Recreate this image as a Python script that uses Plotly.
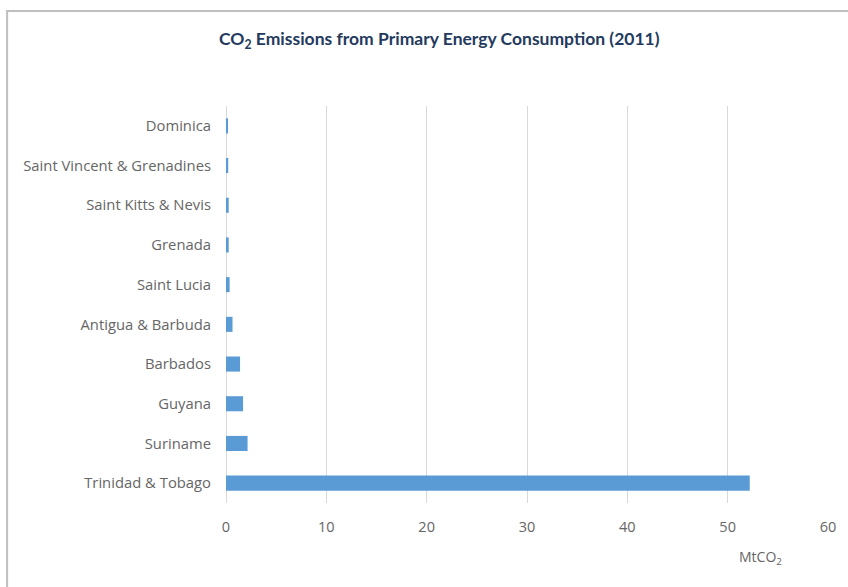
import plotly.graph_objects as go

countries = ["Dominica", "Saint Vincent & Grenadines", "Saint Kitts & Nevis", "Grenada",
             "Saint Lucia", "Antigua & Barbuda", "Barbados", "Guyana", "Suriname",
             "Trinidad & Tobago"]
emissions = [0.13, 0.22, 0.27, 0.27, 0.36, 0.65, 1.4, 1.7, 2.15, 52.2]
x_ticks = [0, 10, 20, 30, 40, 50, 60]

fig = go.Figure(go.Bar(
    x=emissions, y=countries, orientation="h",
    marker=dict(color="#5b9bd5", line=dict(width=0)),
))

fig.update_layout(
    width=848, height=587,
    margin=dict(l=226, r=17, t=106, b=84),
    paper_bgcolor="white", plot_bgcolor="white",
    bargap=0.62,
    showlegend=False,
    font=dict(family="Open Sans", size=15, color="#666666"),
    xaxis=dict(range=[0, 60], tickvals=x_ticks, showgrid=True, gridcolor="#d9d9d9",
               gridwidth=1, zeroline=True, zerolinecolor="#d9d9d9", zerolinewidth=1,
               showline=False, ticks="",
               ticklabelstandoff=13, tickfont=dict(size=14.5, color="#666666")),
    yaxis=dict(autorange="reversed", showgrid=False, showline=False, ticks="",
               ticklabelstandoff=14, tickfont=dict(size=14.8, color="#666666")),
    annotations=[
        dict(text="<b>CO<sub>2</sub> Emissions from Primary Energy Consumption (2011)</b>",
             xref="paper", yref="paper", x=(441 - 226) / 605, y=(503 - 40) / 397,
             xanchor="center", yanchor="middle", showarrow=False,
             font=dict(family="Lato", size=17.5, color="#243a5e")),
        dict(text="MtCO<sub>2</sub>", xref="paper", yref="paper",
             x=(763 - 226) / 605, y=(503 - 557) / 397, xanchor="center", yanchor="middle",
             showarrow=False, font=dict(family="Open Sans", size=14, color="#666666")),
    ],
    shapes=[dict(type="rect", xref="paper", yref="paper",
                 x0=(6 - 226) / 605, x1=(860 - 226) / 605,
                 y0=(503 - 600) / 397, y1=(503 - 11) / 397,
                 line=dict(color="#bfbfbf", width=2), layer="below")],
)

fig.write_html("out.html")
